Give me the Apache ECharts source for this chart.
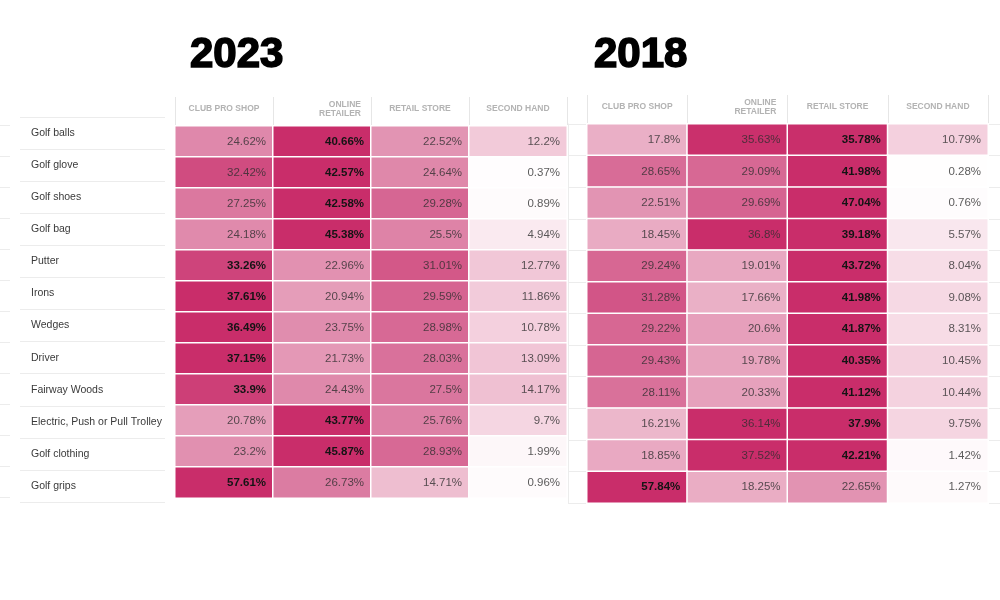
<!DOCTYPE html>
<html>
<head>
<meta charset="utf-8">
<script src="https://cdn.jsdelivr.net/npm/echarts@6/dist/echarts.min.js"></script>
<style>html,body{margin:0;padding:0;background:#fff}#c{width:1000px;height:600px}</style>
</head>
<body>
<div id="c"></div>
<script>
const categories = ['Golf balls','Golf glove','Golf shoes','Golf bag','Putter','Irons','Wedges','Driver','Fairway Woods','Electric, Push or Pull Trolley','Golf clothing','Golf grips'];
const channels = ['CLUB PRO SHOP','ONLINE\nRETAILER','RETAIL STORE','SECOND HAND'];
const years = ['2023','2018'];

const clubPro2023    = [24.62,32.42,27.25,24.18,33.26,37.61,36.49,37.15,33.9,20.78,23.2,57.61];
const online2023     = [40.66,42.57,42.58,45.38,22.96,20.94,23.75,21.73,24.43,43.77,45.87,26.73];
const retail2023     = [22.52,24.64,29.28,25.5,31.01,29.59,28.98,28.03,27.5,25.76,28.93,14.71];
const secondHand2023 = [12.2,0.37,0.89,4.94,12.77,11.86,10.78,13.09,14.17,9.7,1.99,0.96];

const clubPro2018    = [17.8,28.65,22.51,18.45,29.24,31.28,29.22,29.43,28.11,16.21,18.85,57.84];
const online2018     = [35.63,29.09,29.69,36.8,19.01,17.66,20.6,19.78,20.33,36.14,37.52,18.25];
const retail2018     = [35.78,41.98,47.04,39.18,43.72,41.98,41.87,40.35,41.12,37.9,42.21,22.65];
const secondHand2018 = [10.79,0.28,0.76,5.57,8.04,9.08,8.31,10.45,10.44,9.75,1.42,1.27];

function build(cols) {
  const out = [];
  categories.forEach((cat, r) => {
    const row = cols.map(c => c[r]);
    const mx = Math.max.apply(null, row);
    row.forEach((v, c) => {
      const item = { value: [c, r, v] };
      if (v === mx) item.label = { fontWeight: 'bold', color: '#141414' };
      out.push(item);
    });
  });
  return out;
}
const data2023 = build([clubPro2023, online2023, retail2023, secondHand2023]);
const data2018 = build([clubPro2018, online2018, retail2018, secondHand2018]);

const FONT = 'Liberation Sans';
const lineCol = '#ececec';

function headerFormatter(v) {
  if (v.indexOf('\n') >= 0) {
    return v.split('\n').map(s => '{r|' + s + '}').join('\n');
  }
  return v;
}

function heatX(gi) {
  return {
    type: 'category', gridIndex: gi, data: channels, position: 'top',
    axisLine: { show: false },
    axisTick: { show: true, interval: 0, length: 29, lineStyle: { color: '#e6e6e6' } },
    axisLabel: { interval: 0, margin: 17, verticalAlign: 'middle', fontFamily: FONT, fontSize: 8.5, fontWeight: 'bold', color: '#b3b3b3', lineHeight: 9,
      formatter: headerFormatter,
      rich: { r: { align: 'right', padding: [0, 0, 0, 36], fontFamily: FONT, fontSize: 8.5, fontWeight: 'bold', color: '#b3b3b3', lineHeight: 9 } } },
    splitLine: { show: false }
  };
}
function heatY(gi) {
  return { type: 'category', gridIndex: gi, data: categories, inverse: true,
    axisLine: { show: false }, axisTick: { show: false }, axisLabel: { show: false }, splitLine: { show: false } };
}
function lineX(gi) {
  return { type: 'value', gridIndex: gi, show: false, splitLine: { show: false } };
}
function lineY(gi, showAxis) {
  return { type: 'category', gridIndex: gi, data: categories, inverse: true,
    axisLine: { show: !!showAxis, lineStyle: { color: lineCol } }, axisTick: { show: false }, axisLabel: { show: false },
    splitLine: { show: true, interval: 0, lineStyle: { color: lineCol } } };
}

const labelCommon = {
  show: true, position: 'insideRight', distance: 8,
  fontFamily: FONT, fontSize: 11.5, color: 'rgba(45,45,45,0.78)',
  formatter: p => p.value[2] + '%'
};
const colorStops = ['#ffffff', '#f6d9e4', '#eaaec5', '#db7aa1', '#c92d6a'];
const titleStyle = { fontFamily: FONT, fontSize: 42, fontWeight: 'bold', color: '#000', textBorderColor: '#000', textBorderWidth: 1.6 };

const option = {
  backgroundColor: '#fff',
  animation: false,
  title: [
    { text: years[0], left: 185, top: 29, textStyle: titleStyle },
    { text: years[1], left: 589, top: 29, textStyle: titleStyle }
  ],
  grid: [
    { left: 175, width: 392, top: 126, height: 372 },
    { left: 587, width: 401, top: 124, height: 379 },
    { left: 20, width: 145, top: 117, height: 385 },
    { left: 0, width: 10, top: 125, height: 372 },
    { left: 568, width: 19, top: 124, height: 379 },
    { left: 988, width: 12, top: 124, height: 379 }
  ],
  xAxis: [heatX(0), heatX(1), lineX(2), lineX(3), lineX(4), lineX(5)],
  yAxis: [
    heatY(0), heatY(1),
    { type: 'category', gridIndex: 2, data: categories, inverse: true,
      axisLine: { show: false }, axisTick: { show: false },
      axisLabel: { inside: true, interval: 0, align: 'left', margin: 11, fontFamily: FONT, fontSize: 10.5, color: '#3a3a3a' },
      splitLine: { show: true, interval: 0, lineStyle: { color: lineCol } } },
    lineY(3, false), lineY(4, true), lineY(5, true)
  ],
  visualMap: [
    { type: 'continuous', show: false, seriesIndex: 0, dimension: 2, min: 0, max: 36, inRange: { color: colorStops } },
    { type: 'continuous', show: false, seriesIndex: 1, dimension: 2, min: 0, max: 36, inRange: { color: colorStops } }
  ],
  series: [
    { type: 'heatmap', name: years[0], xAxisIndex: 0, yAxisIndex: 0, data: data2023,
      itemStyle: { borderColor: '#ffffff', borderWidth: 1.5 }, label: labelCommon, emphasis: { disabled: true } },
    { type: 'heatmap', name: years[1], xAxisIndex: 1, yAxisIndex: 1, data: data2018,
      itemStyle: { borderColor: '#ffffff', borderWidth: 1.5 }, label: labelCommon, emphasis: { disabled: true } }
  ]
};

const chart = echarts.init(document.getElementById('c'), null, { renderer: 'canvas' });
chart.setOption(option);
</script>
</body>
</html>
